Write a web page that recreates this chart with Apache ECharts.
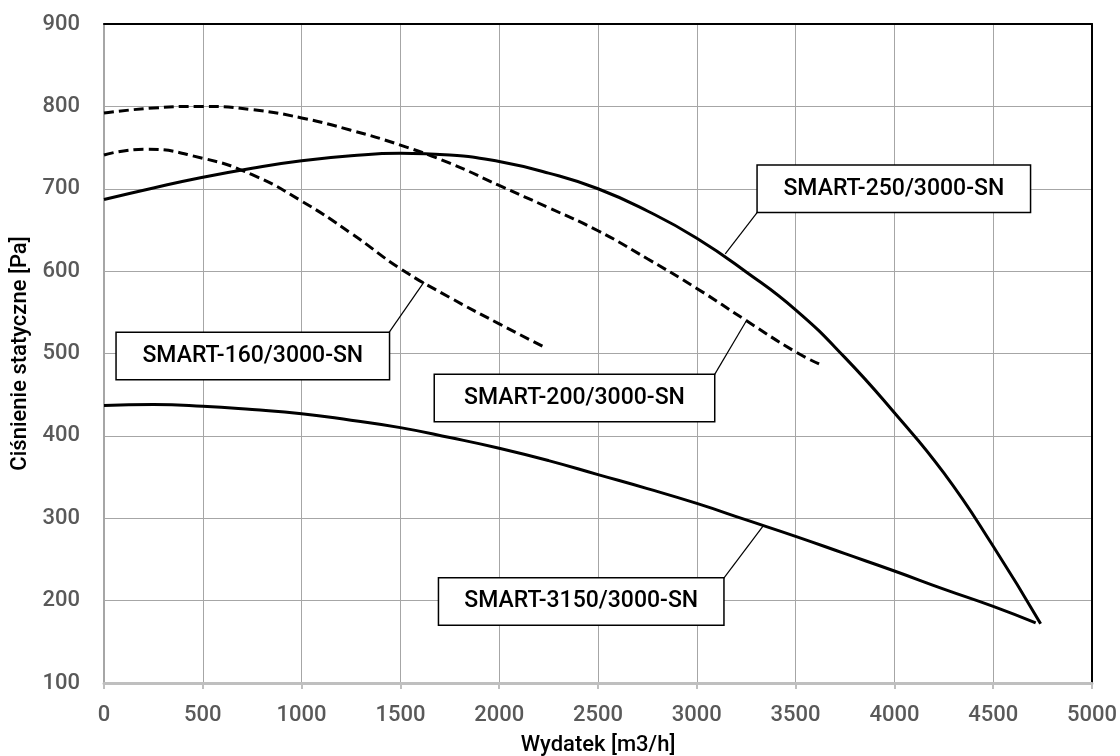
<!DOCTYPE html>
<html><head><meta charset="utf-8">
<script src="https://cdn.jsdelivr.net/npm/echarts@6/dist/echarts.min.js"></script>
<style>html,body{margin:0;padding:0;background:#fff}#c{width:1120px;height:756px}</style>
</head><body><div id="c"></div>
<script>
// ---- data ----
const xMin = 0, xMax = 5000, xStep = 500;
const yMin = 100, yMax = 900, yStep = 100;

const s160X = [0, 200, 500, 750, 1000, 1250, 1500, 1750, 2000, 2226];
const s160Y = [741, 748, 737, 717, 685, 646, 603, 568, 536, 508];

const s200X = [0, 250, 500, 750, 1000, 1250, 1500, 1750, 2000, 2250, 2500, 2750, 3000, 3250, 3500, 3640];
const s200Y = [792, 798, 800, 796, 786, 771, 753, 731, 704, 677, 649, 615, 579, 540, 502, 485];

const s250X = [0, 250, 500, 750, 1000, 1250, 1500, 1750, 2000, 2250, 2500, 2750, 3000, 3250, 3500, 3750, 4000, 4250, 4500, 4740];
const s250Y = [687, 701, 714, 725, 734, 740, 743, 741, 733, 719, 700, 673, 640, 599, 553, 495, 428, 355, 266, 172];

const s3150X = [0, 250, 500, 750, 1000, 1250, 1500, 1750, 2000, 2250, 2500, 2750, 3000, 3250, 3500, 3750, 4000, 4250, 4500, 4715];
const s3150Y = [437, 438, 436, 432, 427, 419, 410, 398, 385, 370, 353, 336, 318, 298, 278, 257, 236, 214, 193, 173];

const seriesNames = ['SMART-160/3000-SN', 'SMART-200/3000-SN', 'SMART-250/3000-SN', 'SMART-3150/3000-SN'];

// callout annotations in data units: point on curve, box corner, box centre
const calloutAnchor = [[1620, 587], [3254, 541], [3144, 621], [3337, 291]];
const calloutCorner = [[1441, 525], [3089, 474], [3308, 672], [3133, 226]];
const calloutCenter = [[753, 497], [2381, 446], [3997, 700], [2415, 199]];

// ---- chart ----
const FONT = 'Roboto';
function pairs(xs, ys) { return xs.map((x, i) => [x, ys[i]]); }
const curves = [pairs(s160X, s160Y), pairs(s200X, s200Y), pairs(s250X, s250Y), pairs(s3150X, s3150Y)];
const dashed = [true, true, false, false];
const boxTextWidth = [224, 231, 224, 236];

const series = curves.map((d, i) => ({
  name: seriesNames[i],
  type: 'line',
  xAxisIndex: 0, yAxisIndex: 0,
  data: d,
  smooth: 0.5,
  showSymbol: false,
  silent: true,
  z: 3,
  lineStyle: { color: '#000', width: 3, type: dashed[i] ? [10, 5] : 'solid' },
  markLine: {
    silent: true,
    symbol: ['none', 'none'],
    label: { show: false },
    lineStyle: { color: '#000', width: 1.2, type: 'solid' },
    data: [[{ coord: calloutAnchor[i] }, { coord: calloutCorner[i] }]],
    z: 4
  },
  markPoint: {
    silent: true,
    symbol: 'circle',
    symbolSize: 1,
    itemStyle: { color: 'rgba(0,0,0,0)' },
    z: 5,
    label: {
      show: true,
      position: 'inside',
      formatter: seriesNames[i],
      color: '#000',
      fontFamily: FONT,
      fontSize: 23,
      fontWeight: 500,
      lineHeight: 24,
      width: boxTextWidth[i],
      align: 'center',
      backgroundColor: '#fff',
      borderColor: '#000',
      borderWidth: 1.5,
      padding: [11, 24, 11, 24]
    },
    data: [{ coord: calloutCenter[i] }]
  }
}));

const chart = echarts.init(document.getElementById('c'), null, { renderer: 'canvas' });
chart.setOption({
  animation: false,
  backgroundColor: '#fff',
  textStyle: { fontFamily: FONT },
  grid: { left: 104, right: 28, top: 24, bottom: 73, containLabel: false, outerBoundsMode: 'none' },
  xAxis: [{
    type: 'value', position: 'bottom', min: xMin, max: xMax, interval: xStep,
    axisLine: { show: true, onZero: false, lineStyle: { color: '#bfbfbf', width: 3 } },
    axisTick: { show: true, length: 6, lineStyle: { color: '#bfbfbf', width: 2 } },
    axisLabel: { color: '#595959', fontSize: 22, fontWeight: 500, margin: 21, fontFamily: FONT, formatter: v => String(v) },
    splitLine: { show: true, lineStyle: { color: '#a6a6a6', width: 1 } },
    name: 'Wydatek [m3/h]', nameLocation: 'middle', nameGap: 51,
    nameTextStyle: { color: '#000', fontSize: 22, fontWeight: 500, fontFamily: FONT }
  }, {
    type: 'value', position: 'top', min: xMin, max: xMax, interval: xStep,
    axisLine: { show: true, onZero: false, lineStyle: { color: '#000', width: 2 } },
    axisTick: { show: false }, axisLabel: { show: false }, splitLine: { show: false }
  }],
  yAxis: [{
    type: 'value', position: 'left', min: yMin, max: yMax, interval: yStep,
    axisLine: { show: true, onZero: false, lineStyle: { color: '#a6a6a6', width: 2 } },
    axisTick: { show: false },
    axisLabel: { color: '#595959', fontSize: 22, fontWeight: 500, margin: 24, fontFamily: FONT, formatter: v => String(v) },
    splitLine: { show: true, lineStyle: { color: '#a6a6a6', width: 1 } },
    name: 'Ciśnienie statyczne [Pa]', nameLocation: 'middle', nameGap: 72, nameRotate: 90,
    nameTextStyle: { color: '#000', fontSize: 22, fontWeight: 500, fontFamily: FONT }
  }, {
    type: 'value', position: 'right', min: yMin, max: yMax, interval: yStep,
    axisLine: { show: true, onZero: false, lineStyle: { color: '#000', width: 2 } },
    axisTick: { show: false }, axisLabel: { show: false }, splitLine: { show: false }
  }],
  series: series
});
</script>
</body></html>
